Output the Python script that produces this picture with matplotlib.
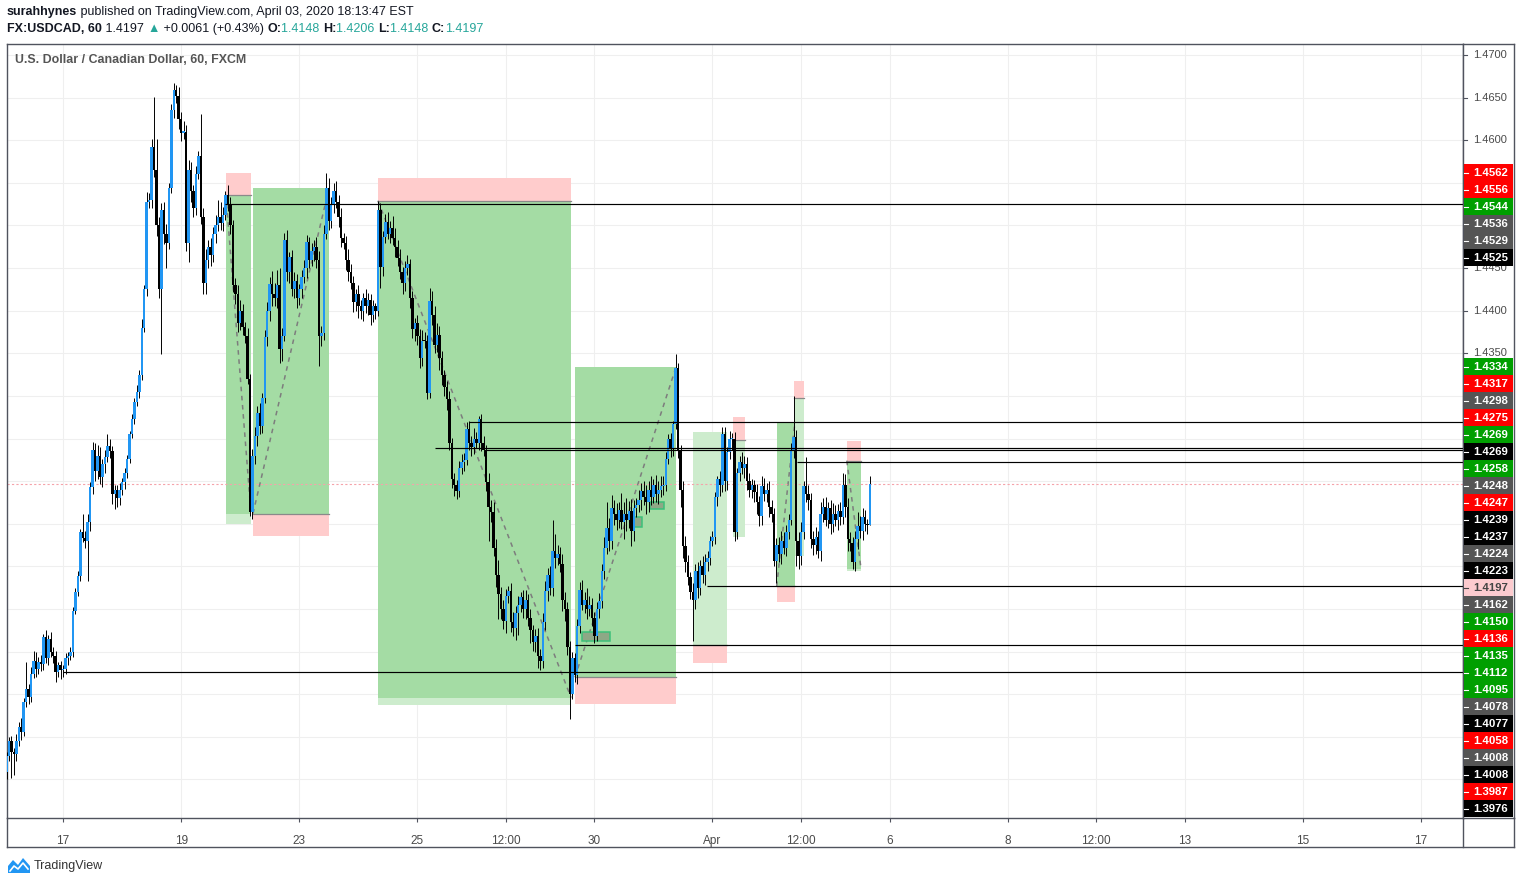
import numpy as np
import pandas as pd
import matplotlib
matplotlib.use('Agg')
import matplotlib.pyplot as plt
from matplotlib.patches import Rectangle, Polygon
from matplotlib.lines import Line2D
from matplotlib.ticker import MultipleLocator

plt.rcParams['font.family'] = ['Liberation Sans', 'DejaVu Sans']

W, H = 1521, 884

# USDCAD hourly candles, Mar 16 01:00 .. Apr 3 16:00 EST
# prices kept in pips above 1.3900, open = previous close
BASE = 1.39
PIP = 0.0001
first_open = -41
close_pips = [
    -22, -5, -18, -20, -5, 12, 6, 41, 56, 47, 74, 89, 80, 88, 85, 117, 92, 115, 100, 95, 76, 84, 78, 80,
    92, 95, 100, 148, 170, 189, 240, 233, 230, 252, 293, 337, 312, 330, 305, 320, 328, 341, 335, 285, 290, 280, 290, 299,
    310, 326, 355, 373, 393, 405, 425, 480, 525, 627, 630, 692, 665, 600, 525, 618, 590, 580, 644, 736, 759, 752, 725, 709,
    710, 580, 665, 640, 620, 660, 681, 610, 533, 560, 575, 565, 590, 600, 610, 603, 612, 636, 625, 600, 530, 520, 485, 500,
    481, 470, 420, 264, 330, 353, 380, 365, 398, 469, 500, 531, 520, 515, 530, 455, 470, 583, 545, 563, 525, 535, 515, 525,
    540, 550, 581, 560, 570, 575, 560, 470, 474, 590, 644, 605, 625, 640, 628, 610, 585, 580, 560, 545, 533, 510, 520, 505,
    500, 515, 505, 513, 495, 505, 500, 618, 551, 587, 604, 590, 597, 585, 575, 562, 545, 533, 550, 555, 515, 478, 485, 470,
    445, 465, 464, 404, 511, 495, 460, 472, 445, 425, 410, 396, 345, 302, 295, 288, 316, 322, 325, 361, 345, 340, 350, 345,
    373, 345, 337, 299, 270, 264, 222, 190, 168, 150, 136, 165, 171, 135, 128, 145, 155, 164, 150, 160, 140, 125, 111, 118,
    95, 89, 135, 171, 190, 175, 218, 210, 215, 203, 160, 150, 106, 50, 92, 72, 130, 172, 155, 160, 150, 155, 140, 118,
    150, 159, 195, 222, 245, 230, 268, 262, 255, 266, 252, 262, 255, 265, 242, 268, 272, 278, 288, 282, 276, 290, 282, 295,
    285, 290, 294, 296, 326, 349, 338, 367, 433, 335, 290, 224, 205, 188, 170, 160, 195, 175, 200, 190, 205, 210, 230, 234,
    281, 302, 295, 355, 300, 334, 349, 350, 240, 310, 322, 316, 320, 300, 290, 295, 287, 275, 259, 294, 285, 290, 270, 262,
    206, 225, 215, 230, 222, 240, 255, 335, 352, 230, 212, 240, 294, 285, 278, 232, 225, 234, 218, 262, 270, 255, 268, 250,
    262, 255, 265, 258, 296, 270, 232, 228, 205, 232, 247, 241, 258, 250, 248, 297,
]
# wick lengths in pips above / below the body
wick_up = [
    4, 5, 6, 5, 8, 6, 10, 5, 32, 6, 8, 12, 10, 6, 8, 4, 8, 5, 8, 6, 6, 4, 5, 4,
    6, 4, 5, 4, 5, 6, 4, 21, 8, 10, 6, 9, 8, 12, 10, 6, 8, 14, 8, 6, 5, 6, 8, 5,
    6, 5, 4, 6, 5, 8, 6, 10, 5, 12, 8, 10, 59, 36, 10, 8, 10, 12, 6, 6, 8, 6, 10, 8,
    12, 8, 12, 10, 8, 10, 6, 50, 10, 12, 8, 10, 8, 12, 20, 18, 10, 4, 12, 8, 6, 8, 10, 12,
    8, 6, 10, 6, 8, 10, 8, 12, 6, 8, 10, 8, 16, 12, 18, 20, 10, 8, 12, 6, 8, 10, 8, 6,
    8, 10, 8, 6, 10, 8, 12, 10, 8, 10, 18, 12, 8, 10, 12, 8, 10, 6, 8, 12, 10, 8, 6, 10,
    8, 6, 10, 8, 6, 8, 4, 11, 8, 6, 10, 12, 8, 14, 12, 8, 10, 6, 8, 10, 6, 8, 6, 10,
    8, 12, 10, 8, 16, 12, 10, 14, 10, 8, 6, 8, 10, 6, 8, 6, 8, 10, 8, 8, 10, 8, 12, 8,
    4, 6, 8, 6, 10, 8, 12, 10, 18, 8, 10, 8, 6, 10, 12, 8, 10, 6, 8, 12, 8, 10, 6, 8,
    10, 8, 10, 12, 8, 10, 37, 20, 10, 8, 12, 10, 8, 6, 8, 6, 8, 10, 12, 10, 15, 10, 8, 6,
    8, 10, 8, 12, 30, 12, 16, 10, 12, 10, 20, 14, 18, 12, 14, 10, 8, 12, 10, 12, 14, 10, 16, 8,
    12, 10, 12, 10, 8, 6, 8, 4, 16, 6, 8, 10, 12, 8, 6, 10, 8, 10, 8, 12, 10, 8, 6, 8,
    6, 4, 10, 9, 8, 6, 10, 6, 8, 6, 8, 12, 10, 8, 10, 8, 6, 10, 8, 12, 10, 8, 10, 8,
    6, 8, 10, 12, 10, 8, 6, 10, 48, 8, 10, 12, 6, 34, 10, 8, 10, 12, 8, 14, 10, 12, 8, 10,
    12, 10, 8, 10, 14, 12, 10, 8, 6, 10, 17, 12, 10, 8, 6, 9,
]
wick_dn = [
    8, 6, 30, 25, 8, 6, 10, 5, 6, 8, 6, 5, 10, 6, 8, 6, 5, 8, 6, 8, 12, 6, 10, 8,
    6, 8, 5, 6, 4, 5, 6, 4, 8, 47, 10, 8, 12, 10, 8, 12, 10, 6, 8, 12, 18, 10, 8, 6,
    8, 6, 5, 4, 6, 5, 8, 6, 5, 8, 6, 10, 8, 12, 10, 76, 12, 30, 8, 6, 10, 8, 12, 10,
    8, 10, 23, 12, 10, 8, 6, 8, 14, 14, 10, 12, 8, 10, 6, 8, 10, 6, 8, 10, 8, 12, 10, 8,
    10, 8, 6, 5, 8, 10, 12, 10, 8, 6, 10, 12, 14, 10, 12, 16, 14, 6, 10, 12, 8, 10, 12, 8,
    10, 8, 12, 10, 8, 12, 10, 35, 12, 8, 6, 10, 8, 10, 8, 12, 10, 8, 12, 10, 8, 12, 10, 14,
    10, 12, 8, 10, 12, 8, 10, 6, 24, 10, 8, 6, 10, 8, 12, 10, 8, 14, 10, 8, 12, 10, 14, 10,
    12, 10, 8, 8, 6, 12, 10, 8, 14, 12, 10, 12, 8, 10, 12, 9, 6, 8, 10, 6, 8, 10, 8, 6,
    8, 10, 8, 10, 40, 12, 10, 14, 30, 12, 10, 14, 8, 12, 10, 14, 25, 8, 10, 12, 10, 15, 10, 12,
    14, 10, 8, 10, 12, 8, 10, 12, 8, 10, 12, 14, 10, 29, 6, 8, 10, 8, 6, 10, 12, 8, 10, 8,
    6, 10, 8, 10, 8, 12, 10, 14, 12, 10, 8, 20, 14, 10, 18, 12, 10, 8, 12, 10, 14, 12, 10, 8,
    10, 12, 8, 10, 8, 6, 10, 8, 6, 8, 20, 14, 12, 10, 8, 47, 10, 12, 8, 10, 12, 10, 8, 6,
    8, 10, 12, 8, 12, 10, 8, 12, 10, 8, 10, 8, 12, 10, 8, 10, 12, 14, 12, 10, 8, 10, 12, 10,
    6, 25, 10, 12, 8, 10, 8, 6, 8, 30, 15, 10, 8, 10, 12, 10, 12, 10, 8, 12, 10, 8, 10, 12,
    10, 8, 12, 10, 8, 12, 14, 10, 8, 10, 12, 8, 10, 8, 10, 0,
]

tick_times = ['2020-03-17', '2020-03-19', '2020-03-23', '2020-03-25', '2020-03-26 12:00',
              '2020-03-30', '2020-04-01', '2020-04-02 12:00', '2020-04-06', '2020-04-08',
              '2020-04-09 12:00', '2020-04-13', '2020-04-15', '2020-04-17']
tick_text = ['17', '19', '23', '25', '12:00', '30', 'Apr', '12:00', '6', '8', '12:00', '13', '15', '17']

# position tools: from bar, to bar, entry, stop, target, price reached (None = not run)
positions = [
    (89.2, 99.4, 1.4536, 1.4562, 1.4150, 1.4162),
    (100.2, 131.1, 1.4162, 1.4136, 1.4544, 1.4544),
    (151.0, 229.5, 1.4529, 1.4556, 1.3937, 1.3946),
    (231.1, 272.2, 1.3970, 1.3939, 1.4334, 1.4334),
    (279.0, 292.9, 1.4008, 1.3987, 1.4258, None),
    (295.3, 300.2, 1.4248, 1.4275, 1.4135, None),
    (313.1, 320.5, 1.4077, 1.4058, 1.4269, 1.4269),
    (320.2, 324.2, 1.4298, 1.4317, 1.4112, None),
    (341.6, 347.4, 1.4224, 1.4247, 1.4095, 1.4097),
]
# small marked areas: from bar, to bar, low, high
marks = [(234.0, 245.3, 1.4013, 1.4023), (254.7, 258.4, 1.4146, 1.4158), (261.6, 267.3, 1.4167, 1.4176)]
# horizontal rays: price, start bar
rays = [(1.4525, 88.8), (1.4269, 188.0), (1.4239, 174.2), (1.4237, 194.5),
        (1.4223, 321.3), (1.4077, 284.8), (1.4008, 231.1), (1.3976, 23.0)]

# price scale labels (top to bottom)
scale_prices = [1.4562, 1.4556, 1.4544, 1.4536, 1.4529, 1.4525, 1.4334, 1.4317, 1.4298, 1.4275, 1.4269,
                1.4269, 1.4258, 1.4248, 1.4247, 1.4239, 1.4237, 1.4224, 1.4223, 1.4197, 1.4162, 1.4150,
                1.4136, 1.4135, 1.4112, 1.4095, 1.4078, 1.4077, 1.4058, 1.4008, 1.4008, 1.3987, 1.3976]
scale_kinds = ['stop', 'stop', 'target', 'entry', 'entry', 'line', 'target', 'stop', 'entry', 'stop', 'target',
               'line', 'target', 'entry', 'stop', 'line', 'line', 'entry', 'line', 'last', 'entry', 'target',
               'stop', 'target', 'target', 'target', 'entry', 'line', 'stop', 'entry', 'line', 'stop', 'line']
kind_style = {'stop': ('#ff0000', 'white'), 'target': ('#009f00', 'white'), 'entry': ('#555555', 'white'),
              'line': ('#000000', 'white'), 'last': ('#fccbcf', '#444444')}

# ---- data prep
c = BASE + np.array(close_pips) * PIP
o = np.r_[BASE + first_open * PIP, c[:-1]]
hi = np.maximum(o, c) + np.array(wick_up) * PIP
lo = np.minimum(o, c) - np.array(wick_dn) * PIP
idx = np.arange(len(c))

# FX session hours (closed Fri 17:00 - Sun 17:00)
hours = pd.date_range('2020-03-16 01:00', '2020-04-17 23:00', freq='h')
dow, hod = hours.dayofweek, hours.hour
hours = hours[~(((dow == 4) & (hod >= 17)) | (dow == 5) | ((dow == 6) & (hod < 17)))]
tick_pos = [hours.get_loc(pd.Timestamp(t)) for t in tick_times]

fig = plt.figure(figsize=(W / 100, H / 100), dpi=100)
fig.patch.set_facecolor('white')


def px_box(x0, y0, x1, y1):
    return [x0 / W, 1 - y1 / H, (x1 - x0) / W, (y1 - y0) / H]


ax = fig.add_axes(px_box(7, 44, 1463, 818))
ax_r = fig.add_axes(px_box(1463, 44, 1514, 818))
ax.set_xlim(0.2, 592.1)
ax.set_ylim(1.38048, 1.47129)

frame_c = '#50535e'
for sp in ax.spines.values():
    sp.set_color(frame_c)
    sp.set_linewidth(1.0)

# grid
ax.set_xticks(tick_pos)
ax.set_xticklabels(tick_text)
ax.yaxis.set_major_locator(MultipleLocator(0.005))
ax.grid(color='#efefef', lw=0.8)
ax.set_axisbelow(True)
ax.tick_params(axis='y', left=False, labelleft=False)
ax.tick_params(axis='x', length=3, width=0.8, color=frame_c, labelsize=8.5, labelcolor='#4a4a4a', pad=9)
for lab in ax.get_xticklabels():
    lab.set_family(['Liberation Sans Narrow', 'Liberation Sans'])

# position tools
for x0, x1, entry, stop, target, reached in positions:
    w = x1 - x0
    ax.add_patch(Rectangle((x0, min(entry, stop)), w, abs(stop - entry), fc='#ffcccc', lw=0, zorder=1))
    ax.add_patch(Rectangle((x0, min(entry, target)), w, abs(target - entry), fc='#cdeccd', lw=0, zorder=1))
    if reached is not None:
        ax.add_patch(Rectangle((x0, min(entry, reached)), w, abs(reached - entry), fc='#a4dca4', lw=0, zorder=1.1))
        ax.plot([x0, x1], [entry, reached], ls=(0, (3, 3)), color='#7d7d7d', lw=1.1, zorder=2)
    ax.plot([x0, x1], [entry, entry], color='#8a8a8a', lw=0.9, zorder=1.2)

for x0, x1, p0, p1 in marks:
    ax.add_patch(Rectangle((x0, p0), x1 - x0, p1 - p0, fc='#8ea886', ec='#3cc07a', lw=1.1, zorder=2.2))

# last price line
ax.axhline(c[-1], color='#f5a3aa', lw=0.8, ls=(0, (2, 2)), zorder=2)

# candles
up = c >= o
ax.vlines(idx, lo, hi, color='#000000', lw=0.7, zorder=3)
ax.bar(idx, np.maximum(np.abs(c - o), 1.5 * PIP), bottom=np.minimum(o, c), width=1.0,
       color=np.where(up, '#2196f3', '#000000'), edgecolor='none', lw=0, zorder=4, antialiased=False)

# horizontal rays
for p, start in rays:
    ax.hlines(p, start, 592.1, color='#000000', lw=0.85, zorder=5)

# ---- price scale
ax_r.set_ylim(ax.get_ylim())
ax_r.set_xlim(0, 1)
ax_r.set_xticks([])
ax_r.set_yticks([])
for sp in ax_r.spines.values():
    sp.set_color(frame_c)
    sp.set_linewidth(1.0)

tr = ax_r.transData
px_per = tr.transform((0, 1.0))[1] - tr.transform((0, 0.0))[1]
lab_h = 17 / px_per
label_y = []
prev = None
for p in scale_prices:
    y = p if prev is None else min(p, prev - lab_h)
    prev = y
    label_y.append(y)

# plain scale ticks, only where no coloured label sits on top of them
y0, y1 = ax.get_ylim()
for p in ax.get_yticks():
    covered = any(abs(p - ly) < lab_h / 2 for ly in label_y)
    if y0 < p < y1 and not covered:
        ax_r.text(0.53, p, f'{p:.4f}', ha='center', va='center', fontsize=8, color='#4a4a4a', zorder=2)
        ax_r.plot([0, 0.08], [p, p], color=frame_c, lw=0.8, zorder=2)

for p, kind, y in zip(scale_prices, scale_kinds, label_y):
    bg, fg = kind_style[kind]
    ax_r.add_patch(Rectangle((0.02, y - lab_h / 2), 0.96, lab_h, fc=bg, lw=0, zorder=5))
    ax_r.plot([0.02, 0.09], [y, y], color=fg, lw=0.8, zorder=6)
    ax_r.text(0.54, y, f'{p:.4f}', ha='center', va='center', fontsize=8.2, color=fg,
              fontweight='bold', zorder=6)

# ---- frame below the plot (time scale area)
for xs, ys in [([7, 1514], [847, 847]), ([7, 7], [818, 847]), ([1463, 1463], [818, 847]), ([1514, 1514], [818, 847])]:
    fig.add_artist(Line2D([x / W for x in xs], [1 - y / H for y in ys], color=frame_c, lw=1.0))

# ---- header texts
renderer = fig.canvas.get_renderer()


def write_line(x_px, y_px, parts, size):
    x = x_px
    for s, color, weight in parts:
        t = fig.text(x / W, 1 - y_px / H, s, fontsize=size, color=color, fontweight=weight, va='center',
                     family=['Liberation Sans', 'DejaVu Sans'])
        x += t.get_window_extent(renderer).width


teal = '#26a69a'
ink = '#131722'
write_line(7, 12, [('surahhynes', ink, 'bold'),
                   (' published on TradingView.com, April 03, 2020 18:13:47 EST', ink, 'normal')], 9.0)
write_line(7, 29, [('FX:USDCAD, 60', ink, 'bold'), (' 1.4197 ', ink, 'normal'), ('▲', teal, 'normal'),
                   (' +0.0061 (+0.43%) ', ink, 'normal'),
                   ('O:', ink, 'bold'), ('1.4148 ', teal, 'normal'),
                   ('H:', ink, 'bold'), ('1.4206 ', teal, 'normal'),
                   ('L:', ink, 'bold'), ('1.4148 ', teal, 'normal'),
                   ('C:', ink, 'bold'), ('1.4197', teal, 'normal')], 9.0)

fig.text(15 / W, 1 - 60 / H, 'U.S. Dollar / Canadian Dollar, 60, FXCM', fontsize=8.9, color='#555555',
         fontweight='bold', va='center')

# ---- footer logo
logo = [(8, 873), (8, 866), (13, 860), (18, 865), (23, 858), (30, 866), (30, 873)]
fig.add_artist(Polygon([(x / W, 1 - y / H) for x, y in logo], closed=True, fc='#2196f3', ec='none'))
zig = [(10, 871), (14, 866), (18, 869), (23, 863), (28, 869)]
fig.add_artist(Line2D([x / W for x, y in zig], [1 - y / H for x, y in zig], color='white', lw=1.2))
fig.text(34 / W, 1 - 866 / H, 'TradingView', fontsize=9, color='#333333', va='center',
         family=['Liberation Sans Narrow', 'Liberation Sans'])

fig.savefig('out.png', dpi=100, facecolor='white')
